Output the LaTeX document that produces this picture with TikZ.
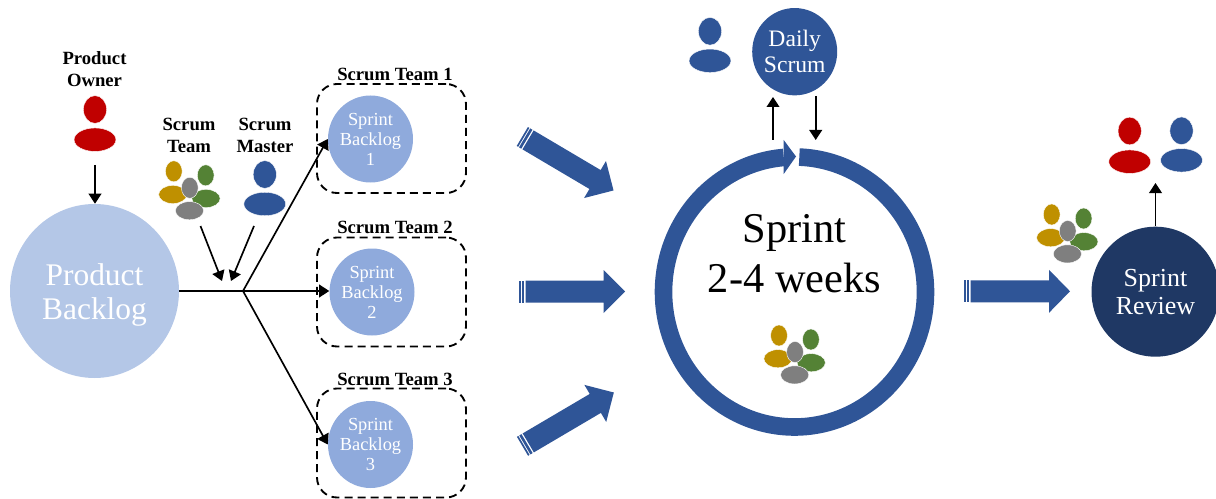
\documentclass[tikz,border=0pt]{standalone}
\usepackage{fontspec}
\setmainfont{Liberation Serif}
\usetikzlibrary{shapes.geometric,arrows.meta}
\definecolor{pbblue}{HTML}{B4C7E7}
\definecolor{sbblue}{HTML}{8FAADC}
\definecolor{mainblue}{HTML}{2F5597}
\definecolor{darkblue}{HTML}{1F3864}
\definecolor{ownerred}{HTML}{C00000}
\definecolor{gold}{HTML}{BF9000}
\definecolor{leaf}{HTML}{548235}
\definecolor{stone}{HTML}{7F7F7F}
\tikzset{
  oval/.style={ellipse,inner sep=0pt,draw=white,line width=0.3pt},
  personhead/.style={oval,minimum width=17.4pt,minimum height=20.8pt},
  personbody/.style={oval,minimum width=31.4pt,minimum height=17.6pt},
  teamhead/.style={oval,minimum width=12.6pt,minimum height=15.8pt},
  teambody/.style={oval,minimum width=21.2pt,minimum height=13.6pt},
  disc/.style={ellipse,inner sep=-4pt,text=white,align=center},
  sbdisc/.style={disc,fill=sbblue,minimum width=63.75pt,minimum height=65.25pt,font=\fontsize{13.8}{15}\selectfont},
  teambox/.style={draw=black,dashed,dash pattern=on 6pt off 3.8pt,line width=1.4pt,rounded corners=15pt,minimum width=111.75pt,minimum height=81.75pt,inner sep=0pt},
  rolelabel/.style={align=center,inner sep=0pt,font=\fontsize{14}{16.5}\selectfont\bfseries},
  teamlabel/.style={inner sep=0pt,font=\fontsize{14}{15}\selectfont\bfseries},
  link/.style={draw=black,line width=1.25pt,-{Triangle[length=7.5pt,width=9.5pt]}},
  plainlink/.style={draw=black,line width=1.25pt},
}
\newcommand{\personicon}[5]{%
  \node[personhead,fill=#5] (#1head) at (#2,#3) {};
  \node[personbody,fill=#5] (#1body) at (#2,#4) {};
}
\newcommand{\teamicon}[3]{%
  \begin{scope}[shift={(#2,#3)}]
    \node[teamhead,fill=gold] (#1goldhead) at (-16,-16.5) {};
    \node[teambody,fill=gold] (#1goldbody) at (-17,6.7) {};
    \node[teamhead,fill=leaf] (#1leafhead) at (15.9,-12.5) {};
    \node[teambody,fill=leaf] (#1leafbody) at (16.2,10.7) {};
    \node[teamhead,fill=stone] (#1stonehead) at (0,0) {};
    \node[teambody,fill=stone] (#1stonebody) at (-0.3,22.9) {};
  \end{scope}
}
\newcommand{\bigarrow}[4]{% x, y, angle, head base from tail
  \begin{scope}[shift={(#1,#2)},rotate=#3]
    \fill[mainblue] (0,-11) rectangle (1.7,11);
    \fill[mainblue] (2.7,-11) rectangle (5.3,11);
    \fill[mainblue] (6.7,-11) -- (#4,-11) -- (#4,-21.5) -- (106,0) -- (#4,21.5) -- (#4,11) -- (6.7,11) -- cycle;
  \end{scope}
}
\begin{document}
\begin{tikzpicture}[x=0.75pt,y=-0.75pt]
\useasboundingbox (0,0) rectangle (1216,499);
\clip (0,0) rectangle (1216,499);

% Product backlog
\node[disc,fill=pbblue,minimum width=126.75pt,minimum height=130.5pt] (pb) at (94.5,291) {};
\node[align=center,inner sep=0pt,text=white,font=\fontsize{23.6}{25.5}\selectfont] (pbtext) at (94.5,295) {Product\\Backlog};

% Roles
\node[rolelabel] (ownerlabel) at (94.5,69) {Product\\Owner};
\personicon{owner}{95}{109.5}{139.7}{ownerred}
\node[rolelabel] (teamlabel) at (189,135.5) {Scrum\\Team};
\teamicon{left}{189.8}{187.8}
\node[rolelabel] (masterlabel) at (265,135.5) {Scrum\\Master};
\personicon{master}{264.8}{174.5}{204}{mainblue}

% Scrum teams
\node[teambox] (box1) at (391.5,138.5) {};
\node[teambox] (box2) at (391.5,292) {};
\node[teambox] (box3) at (391.5,443) {};
\node[sbdisc] (sb1) at (370.5,139) {Sprint\\Backlog\\1};
\node[sbdisc] (sb2) at (372,292) {Sprint\\Backlog\\2};
\node[sbdisc] (sb3) at (370.5,444.5) {Sprint\\Backlog\\3};
\node[teamlabel] (t1) at (395,74.5) {Scrum Team 1};
\node[teamlabel] (t2) at (395,227.5) {Scrum Team 2};
\node[teamlabel] (t3) at (395,379.5) {Scrum Team 3};

% Flow to sprint backlogs
\coordinate (branch) at (243,291);
\coordinate (teamstart) at (200.5,226);
\coordinate (teamend) at (222,281);
\coordinate (masterstart) at (254,226);
\coordinate (masterend) at (231,281);
\draw[link,shorten <=10pt] (ownerbody.south) -- (ownerbody.south |- pb.north);
\draw[link] (teamstart) -- (teamend);
\draw[link] (masterstart) -- (masterend);
\draw[plainlink] (pb.east) -- (branch);
\draw[link] (branch) -- (branch -| sb2.west);
\draw[link] (branch) -- (sb1.west);
\draw[link] (branch) -- (sb3.west);

% Big arrows
\bigarrow{522.3}{136.5}{-30.6}{84.5}
\bigarrow{519}{291.5}{0}{84.5}
\bigarrow{522.5}{446.3}{30.5}{84.5}
\bigarrow{964}{291.3}{0}{85}

% Sprint ring
\draw[mainblue,line width=13.2pt,line cap=butt] plot[domain=87.9:-265.3,samples=240] ({794.5+131*cos(\x)},{292+135*-sin(\x)});
\fill[mainblue] (783.7,140) -- (796,156.5) -- (783.7,174) -- cycle;
\node[align=center,inner sep=0pt,font=\fontsize{31.8}{37.5}\selectfont] (sprint) at (794.5,254) {Sprint\\2-4 weeks};
\teamicon{mid}{795}{352}

% Daily scrum
\personicon{daily}{710}{31.3}{60.8}{mainblue}
\node[disc,fill=mainblue,minimum width=63.75pt,minimum height=65.5pt,font=\fontsize{17.7}{19.5}\selectfont] (ds) at (794.7,51.7) {Daily\\Scrum};
\coordinate (upstart) at (773,140);
\coordinate (upend) at (773,97);
\coordinate (downstart) at (815.7,96);
\coordinate (downend) at (815.7,140);
\draw[link] (upstart) -- (upend);
\draw[link] (downstart) -- (downend);

% Sprint review
\teamicon{right}{1067.7}{231}
\node[disc,fill=darkblue,minimum width=96pt,minimum height=97.5pt,font=\fontsize{19.5}{21}\selectfont] (sr) at (1155.5,291.7) {Sprint\\Review};
\personicon{red}{1129.7}{131}{161.7}{ownerred}
\personicon{blue}{1181.5}{130.8}{160.3}{mainblue}
\coordinate (reviewend) at (1155.5,183);
\draw[link] (sr.north) -- (reviewend);
\end{tikzpicture}
\end{document}
